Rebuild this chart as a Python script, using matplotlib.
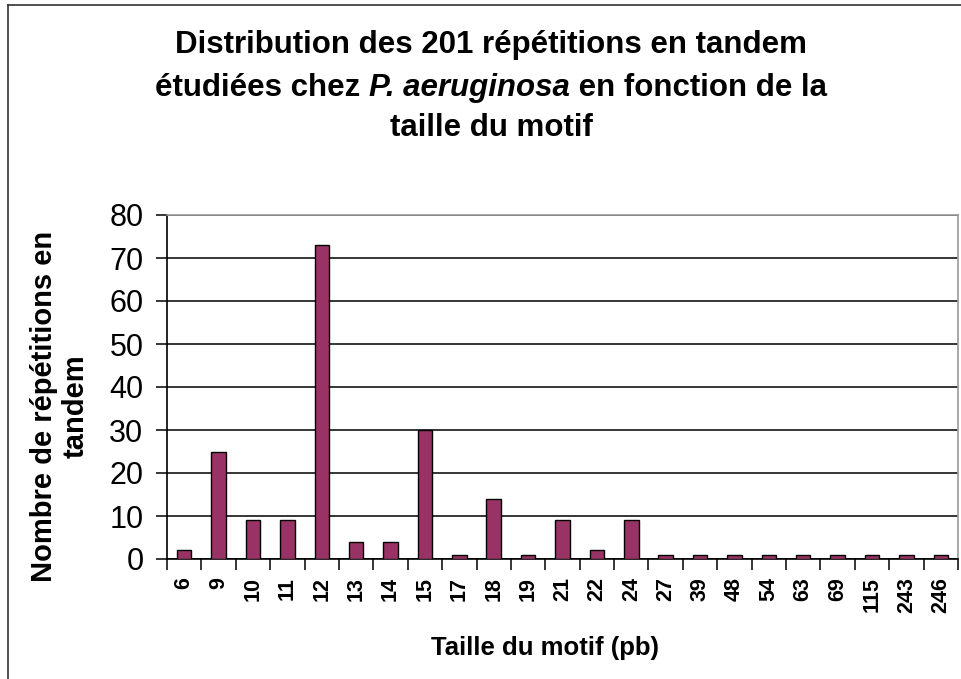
import matplotlib.pyplot as plt
from matplotlib.lines import Line2D

plt.rcParams['font.family'] = ['Liberation Sans', 'DejaVu Sans']

# Data
sizes = ['6', '9', '10', '11', '12', '13', '14', '15', '17', '18', '19', '21',
         '22', '24', '27', '39', '48', '54', '63', '69', '115', '243', '246']
counts = [2, 25, 9, 9, 73, 4, 4, 30, 1, 14, 1, 9, 2, 9, 1, 1, 1, 1, 1, 1, 1, 1, 1]
y_ticks = [0, 10, 20, 30, 40, 50, 60, 70, 80]

fig = plt.figure(figsize=(9.61, 6.79), dpi=100)
ax = fig.add_axes([167 / 961, 1 - 559 / 679, (958 - 167) / 961, (559 - 215) / 679])

# Plot
x = range(len(sizes))
ax.bar(x, counts, width=0.42, color='#993366', edgecolor='black', linewidth=1.0, zorder=3)

# Format
ax.set_xlim(-0.5, len(sizes) - 0.5)
ax.set_ylim(0, 80)
ax.set_yticks(y_ticks)
ax.yaxis.grid(True, color='black', linewidth=1.1, zorder=0)
ax.set_axisbelow(True)

ax.set_xticks(list(x))
ax.set_xticklabels(sizes, rotation=90, fontsize=15.5, fontweight='bold')
ax.set_xticks([i - 0.5 for i in range(len(sizes) + 1)], minor=True)
ax.tick_params(axis='x', which='major', length=0, pad=13)
ax.tick_params(axis='x', which='minor', length=8, width=1.1, direction='out')
ax.tick_params(axis='y', labelsize=22, length=8, width=1.1, pad=9)

for side in ['top', 'right']:
    ax.spines[side].set_color('#999999')
    ax.spines[side].set_linewidth(1.2)
for side in ['left', 'bottom']:
    ax.spines[side].set_color('black')
    ax.spines[side].set_linewidth(1.2)

# Title, three lines; the middle one has the species name in italics
title_size = 22.5
fig.text(491 / 961, 1 - 45 / 679, 'Distribution des 201 répétitions en tandem',
         ha='center', va='center', fontsize=title_size, fontweight='bold')
fig.text(491 / 961, 1 - 128 / 679, 'taille du motif', ha='center', va='center',
         fontsize=title_size, fontweight='bold')

parts = [('étudiées chez ', 'normal'), ('P. aeruginosa', 'italic'), (' en fonction de la', 'normal')]
renderer = fig.canvas.get_renderer()
pieces = []
for txt, style in parts:
    t = fig.text(0, 1 - 88 / 679, txt, ha='left', va='center', fontsize=title_size,
                 fontweight='bold', fontstyle=style)
    pieces.append(t)
widths = [p.get_window_extent(renderer).width for p in pieces]
start = 491 - sum(widths) / 2
for p, w in zip(pieces, widths):
    p.set_x(start / 961)
    start += w

fig.text(545 / 961, 1 - 648 / 679, 'Taille du motif (pb)', ha='center', va='center',
         fontsize=18.5, fontweight='bold')
fig.text(60 / 961, 1 - 406 / 679, 'Nombre de répétitions en\ntandem', ha='center',
         va='center', rotation=90, fontsize=21, fontweight='bold', linespacing=1.15)

# outer frame (top and left edges visible)
fig.add_artist(Line2D([8 / 961, 8 / 961], [0, 1 - 5 / 679], color='#333333', linewidth=1.2))
fig.add_artist(Line2D([8 / 961, 1], [1 - 5 / 679, 1 - 5 / 679], color='#333333', linewidth=1.2))

fig.savefig('out.png', dpi=100)
